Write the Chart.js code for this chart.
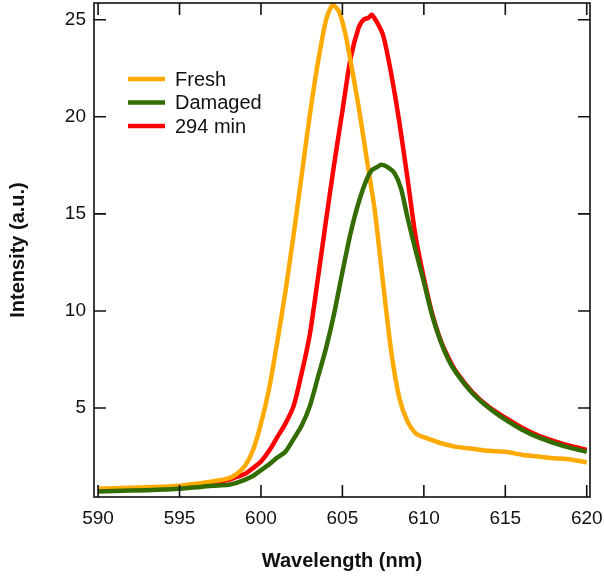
<!DOCTYPE html>
<html>
<head>
<meta charset="utf-8">
<script src="https://cdn.jsdelivr.net/npm/chart.js@4.4.0/dist/chart.umd.min.js"></script>
<style>
  html, body { margin: 0; padding: 0; background: #fff; }
  #wrap { width: 604px; height: 577px; }
</style>
</head>
<body>
<div id="wrap"><canvas id="mycanvas"></canvas></div>
<script>
// values
var freshX = [590, 592, 594, 595, 596, 597, 598, 598.5, 599, 599.5, 600, 600.5, 601, 601.5, 602, 602.5, 603, 603.5, 604, 604.4, 604.8, 605.2, 605.6, 606, 606.5, 607, 607.5, 608, 608.5, 609, 609.5, 610, 610.5, 611, 612, 613, 614, 615, 616, 617, 618, 619, 620];
var freshY = [0.85, 0.9, 0.95, 1.0, 1.1, 1.22, 1.38, 1.6, 2.0, 2.8, 4.2, 6.0, 8.4, 11.0, 13.9, 17.0, 20.1, 22.8, 25.0, 25.75, 25.4, 24.2, 22.4, 20.5, 17.8, 15.1, 11.4, 7.9, 5.5, 4.3, 3.7, 3.5, 3.35, 3.2, 3.0, 2.9, 2.8, 2.75, 2.6, 2.5, 2.42, 2.35, 2.2];

var damagedX = [590, 592, 594, 595, 596, 597, 598, 598.5, 599, 599.5, 600, 600.5, 601, 601.5, 602, 602.5, 603, 603.5, 604, 604.5, 605, 605.5, 606, 606.5, 606.8, 607.1, 607.4, 607.8, 608.2, 608.6, 609, 609.5, 610, 610.5, 611, 611.5, 612, 613, 614, 615, 616, 617, 618, 619, 620];
var damagedY = [0.7, 0.75, 0.8, 0.85, 0.92, 1.0, 1.05, 1.15, 1.3, 1.5, 1.8, 2.1, 2.45, 2.75, 3.4, 4.1, 5.1, 6.6, 8.1, 9.9, 12.0, 14.0, 15.6, 16.8, 17.25, 17.4, 17.53, 17.4, 17.1, 16.3, 14.8, 13.1, 11.5, 9.8, 8.5, 7.5, 6.8, 5.75, 5.0, 4.4, 3.9, 3.5, 3.2, 2.95, 2.75];

var min294X = [590, 592, 594, 595, 596, 597, 598, 598.5, 599, 599.5, 600, 600.5, 601, 601.5, 602, 602.5, 603, 603.5, 604, 604.5, 605, 605.5, 606, 606.3, 606.6, 606.8, 607.1, 607.5, 608, 608.5, 609, 609.5, 610, 610.5, 611, 611.5, 612, 613, 614, 615, 616, 617, 618, 619, 620];
var min294Y = [0.78, 0.82, 0.88, 0.92, 1.0, 1.12, 1.3, 1.45, 1.6, 1.9, 2.25, 2.8, 3.5, 4.2, 5.1, 6.8, 8.8, 11.7, 14.7, 17.6, 20.3, 23.0, 24.6, 25.0, 25.1, 25.25, 24.9, 24.2, 22.2, 19.7, 16.8, 13.8, 11.7, 9.9, 8.55, 7.6, 6.85, 5.8, 5.05, 4.5, 4.0, 3.6, 3.3, 3.05, 2.85];

var xTicks = [590, 595, 600, 605, 610, 615, 620];
var yTicks = [5, 10, 15, 20, 25];

function pts(xs, ys) {
	var out = [];
	for (var i in xs) {
		out.push({x: xs[i], y: ys[i]});
	}
	return out;
}

// frame, inward ticks on all four sides, and the legend inside the plot
var framePlugin = {
	id: 'frame',
	afterDraw: function(chart) {
		var c = chart.ctx, a = chart.chartArea;
		var xs = chart.scales.x, ys = chart.scales.y;
		var tl = 12;
		c.save();
		c.strokeStyle = '#111';
		c.lineWidth = 1.6;
		c.strokeRect(a.left, a.top, a.right - a.left, a.bottom - a.top);
		c.beginPath();
		xTicks.forEach(function(v) {
			var px = xs.getPixelForValue(v);
			c.moveTo(px, a.bottom); c.lineTo(px, a.bottom - tl);
			c.moveTo(px, a.top); c.lineTo(px, a.top + tl);
		});
		yTicks.forEach(function(v) {
			var py = ys.getPixelForValue(v);
			c.moveTo(a.left, py); c.lineTo(a.left + tl, py);
			c.moveTo(a.right, py); c.lineTo(a.right - tl, py);
		});
		c.stroke();

		// legend
		var lx = 128, ly = 79, gap = 23.5;
		var items = [0, 1, 2];
		c.font = '20px "Liberation Sans", Arial, sans-serif';
		c.textBaseline = 'middle';
		c.textAlign = 'left';
		items.forEach(function(k, i) {
			var ds = chart.data.datasets[k];
			var y = ly + i * gap;
			c.strokeStyle = ds.borderColor;
			c.lineWidth = 4.5;
			c.beginPath();
			c.moveTo(lx, y); c.lineTo(lx + 37, y);
			c.stroke();
			c.fillStyle = '#111';
			c.fillText(ds.label, lx + 47, y + 1);
		});
		c.restore();
	}
};

var chartdata = {
	datasets: [
		{
			label: 'Fresh',
			borderColor: 'rgb(255,170,0)',
			data: pts(freshX, freshY),
			order: 2
		},
		{
			label: 'Damaged',
			borderColor: 'rgb(51,108,0)',
			data: pts(damagedX, damagedY),
			order: 1
		},
		{
			label: '294 min',
			borderColor: 'rgb(255,0,0)',
			data: pts(min294X, min294Y),
			order: 3
		}
	]
};

var ctx = document.getElementById('mycanvas');

var lineGraph = new Chart(ctx, {
	type: 'line',
	data: chartdata,
	options: {
		responsive: true,
		maintainAspectRatio: false,
		animation: false,
		layout: { padding: { left: 2, right: 14, top: 3, bottom: 0 } },
		elements: {
			point: { radius: 0 },
			line: { borderWidth: 4.5, tension: 0.25, fill: false }
		},
		plugins: {
			legend: { display: false },
			tooltip: { enabled: false }
		},
		scales: {
			x: {
				type: 'linear',
				min: 589.75,
				max: 620.2,
				grid: { display: false, drawTicks: false },
				border: { display: false },
				afterBuildTicks: function(s) { s.ticks = xTicks.map(function(v) { return {value: v}; }); },
				afterFit: function(s) { s.height = 80; s.paddingLeft = 0; s.paddingRight = 0; },
				ticks: {
					padding: 10,
					color: '#111',
					maxRotation: 0,
					font: { family: '"Liberation Sans", Arial, sans-serif', size: 19 }
				},
				title: {
					display: true,
					text: 'Wavelength (nm)',
					color: '#111',
					font: { family: '"Liberation Sans", Arial, sans-serif', size: 20, weight: 'bold' }
				}
			},
			y: {
				type: 'linear',
				min: 0.42,
				max: 25.86,
				grid: { display: false, drawTicks: false },
				border: { display: false },
				afterBuildTicks: function(s) { s.ticks = yTicks.map(function(v) { return {value: v}; }); },
				afterFit: function(s) { s.width = 92; s.paddingTop = 0; s.paddingBottom = 0; },
				ticks: {
					padding: 8,
					color: '#111',
					font: { family: '"Liberation Sans", Arial, sans-serif', size: 19 }
				},
				title: {
					display: true,
					text: 'Intensity (a.u.)',
					color: '#111',
					font: { family: '"Liberation Sans", Arial, sans-serif', size: 20, weight: 'bold' }
				}
			}
		}
	},
	plugins: [framePlugin]
});
</script>
</body>
</html>
